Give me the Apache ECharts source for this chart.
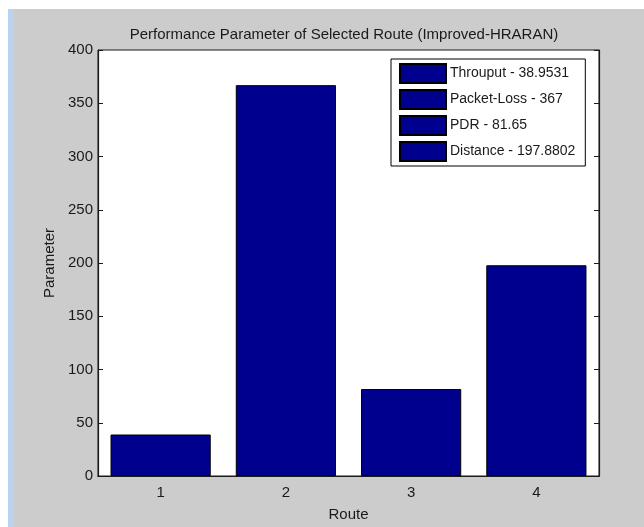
<!DOCTYPE html>
<html>
<head>
<meta charset="utf-8">
<script src="https://cdn.jsdelivr.net/npm/echarts@6/dist/echarts.min.js"></script>
<style>
  html, body { margin: 0; padding: 0; background: #ffffff; }
  #chart { width: 644px; height: 527px; }
</style>
</head>
<body>
<div id="chart"></div>
<script>
// Route numbers on the x axis
const routes = ['1', '2', '3', '4'];
// One measured parameter per route
const metricNames = ['Throuput', 'Packet-Loss', 'PDR', 'Distance'];
const metricValues = [38.9531, 367, 81.65, 197.8802];
// Parameter axis ticks
const yTicks = { min: 0, max: 400, interval: 50 };

const FONT = '"Liberation Sans", Arial, sans-serif';
const BAR_COLOR = '#00008f';
const INK = '#1a1a1a';

// Each parameter becomes its own series so the legend lists it with its value;
// stacking keeps every bar centred in its own category.
const series = metricNames.map((name, i) => ({
  name: name + ' - ' + metricValues[i],
  type: 'bar',
  stack: 'routes',
  barWidth: '80%',
  xAxisIndex: 0,
  yAxisIndex: 0,
  data: routes.map((_, j) => (j === i ? metricValues[i] : '-')),
  itemStyle: { color: BAR_COLOR, borderColor: '#000000', borderWidth: 1 },
  emphasis: { disabled: true }
}));

const tickStyle = { inside: true, length: 5, lineStyle: { color: INK, width: 1 } };
const lineStyle = { show: true, lineStyle: { color: INK, width: 1.2 } };

const chart = echarts.init(document.getElementById('chart'), null, { renderer: 'canvas' });
chart.setOption({
  animation: false,
  backgroundColor: '#cccccc',
  graphic: [
    { type: 'rect', left: 0, top: 0, shape: { width: 644, height: 9 }, style: { fill: '#ffffff' }, silent: true },
    { type: 'rect', left: 0, top: 0, shape: { width: 8, height: 527 }, style: { fill: '#ffffff' }, silent: true },
    { type: 'rect', left: 8, top: 9, shape: { width: 6, height: 518 }, style: { fill: '#bcd3ee' }, silent: true }
  ],
  title: {
    text: 'Performance Parameter of Selected Route (Improved-HRARAN)',
    left: 339,
    top: 22,
    textAlign: 'center',
    textStyle: { fontFamily: FONT, fontSize: 15, fontWeight: 'normal', color: INK }
  },
  legend: {
    orient: 'vertical',
    left: 391,
    top: 59,
    padding: [4, 10, 4, 8],
    itemWidth: 46,
    itemHeight: 19,
    itemGap: 5,
    backgroundColor: '#ffffff',
    borderColor: '#000000',
    borderWidth: 1,
    icon: 'rect',
    selectedMode: false,
    textStyle: { fontFamily: FONT, fontSize: 14, color: INK, padding: [0, 0, 0, -1] }
  },
  grid: {
    left: 98, top: 50, right: 45, bottom: 47,
    show: true, backgroundColor: '#ffffff', borderColor: INK, borderWidth: 1
  },
  xAxis: [
    {
      type: 'category',
      data: routes,
      position: 'bottom',
      name: 'Route',
      nameLocation: 'middle',
      nameGap: 31,
      nameTextStyle: { fontFamily: FONT, fontSize: 15, color: INK },
      axisLine: lineStyle,
      axisTick: Object.assign({ alignWithLabel: true }, tickStyle),
      axisLabel: { fontFamily: FONT, fontSize: 15, color: INK, margin: 9 },
      splitLine: { show: false }
    },
    {
      type: 'category',
      data: routes,
      position: 'top',
      axisLine: lineStyle,
      axisTick: Object.assign({ alignWithLabel: true }, tickStyle),
      axisLabel: { show: false },
      splitLine: { show: false }
    }
  ],
  yAxis: [
    {
      type: 'value',
      min: yTicks.min, max: yTicks.max, interval: yTicks.interval,
      position: 'left',
      name: 'Parameter',
      nameLocation: 'middle',
      nameGap: 41,
      nameTextStyle: { fontFamily: FONT, fontSize: 15, color: INK },
      axisLine: lineStyle,
      axisTick: Object.assign({ show: true }, tickStyle),
      axisLabel: { fontFamily: FONT, fontSize: 15, color: INK, margin: 5 },
      splitLine: { show: false }
    },
    {
      type: 'value',
      min: yTicks.min, max: yTicks.max, interval: yTicks.interval,
      position: 'right',
      axisLine: lineStyle,
      axisTick: Object.assign({ show: true }, tickStyle),
      axisLabel: { show: false },
      splitLine: { show: false }
    }
  ],
  series: series
});
</script>
</body>
</html>
